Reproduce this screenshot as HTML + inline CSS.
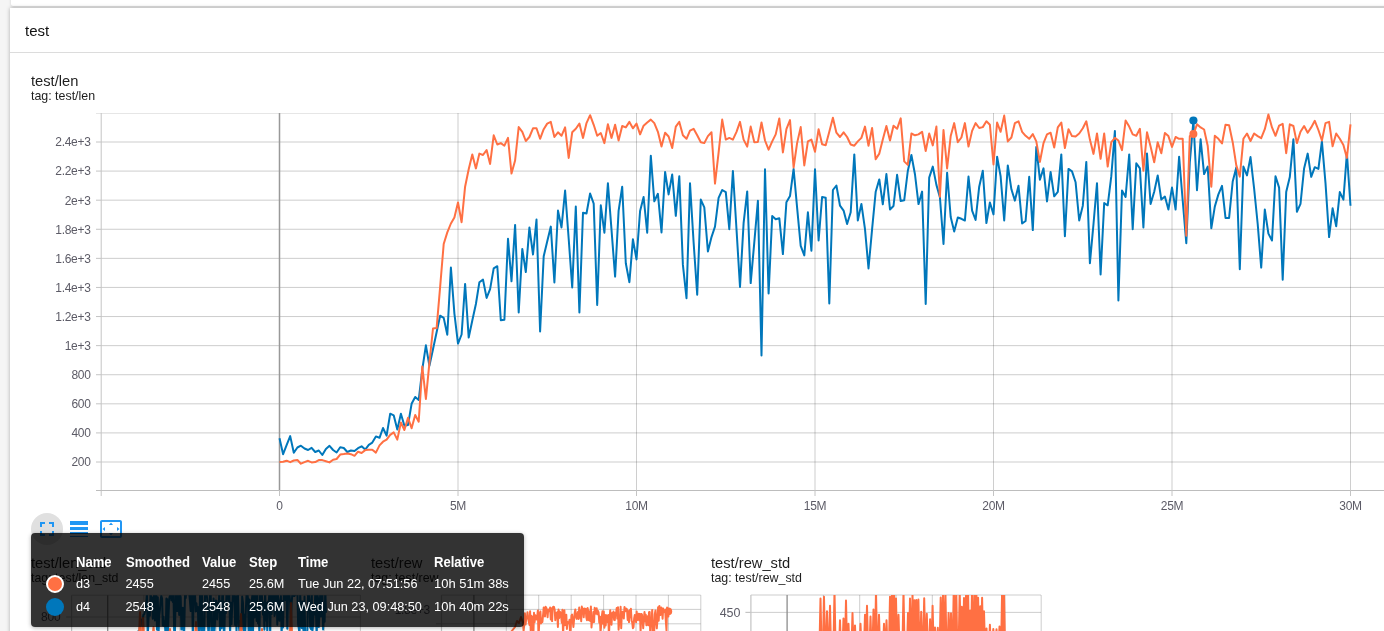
<!DOCTYPE html>
<html><head><meta charset="utf-8"><title>TensorBoard</title>
<style>
html,body{margin:0;padding:0;}
body{width:1384px;height:631px;overflow:hidden;background:#f5f5f5;font-family:"Liberation Sans",sans-serif;position:relative;color:#212121;}
.abs{position:absolute;white-space:nowrap;}
#root{position:absolute;left:0;top:0;width:1384px;height:631px;will-change:transform;transform:translateZ(0);}
#prev{left:10.5px;top:-20px;width:1400px;height:25.5px;background:#fff;border-radius:2px;box-shadow:0 1px 3px rgba(0,0,0,.15);}
#card{left:10px;top:8px;width:1400px;height:700px;background:#fff;box-shadow:0 0 4px rgba(0,0,0,.3);}
#hdrline{left:10px;top:52px;width:1400px;height:1px;background:#dcdcdc;}
.t14{font-size:14.7px;color:#1e1e1e;line-height:16px;}
.t12{font-size:12.4px;color:#1e1e1e;line-height:14px;}
svg{position:absolute;left:0;top:0;}
.tk{font-family:"Liberation Sans",sans-serif;font-size:12px;fill:#5c5b66;letter-spacing:-0.28px;}
#tip{left:31px;top:533px;width:493px;height:94px;background:rgba(0,0,0,.8);border-radius:4px;box-shadow:0 1px 4px rgba(0,0,0,.3);color:#fff;}
#tip span{position:absolute;white-space:nowrap;line-height:16px;}
.th{font-weight:bold;font-size:14px;top:21.3px;display:inline-block;transform-origin:0 50%;transform:scaleX(.935);}
.r1{font-size:12.7px;top:43px;}
.r2{font-size:12.7px;top:65.5px;}
.sw{position:absolute;width:14px;height:14px;border-radius:50%;border:2px solid transparent;left:15px;}
#btnbg{left:31px;top:513px;width:32px;height:32px;border-radius:50%;background:#e0e0e0;}
</style></head><body><div id="root">
<div id="prev" class="abs"></div>
<div id="card" class="abs"></div>
<div id="hdrline" class="abs"></div>
<div class="abs" style="left:25px;top:21.5px;font-size:15px;line-height:17px;color:#111;">test</div>
<div class="abs t14" style="left:31px;top:72.5px;">test/len</div>
<div class="abs t12" style="left:31px;top:88.5px;">tag: test/len</div>

<svg width="1384" height="631" viewBox="0 0 1384 631">
<defs><clipPath id="c1clip"><rect x="72" y="595.2" width="289" height="40"/></clipPath><clipPath id="c3clip"><rect x="751" y="595" width="290" height="40"/></clipPath></defs>
<line x1="101" x2="1384" y1="462.00" y2="462.00" stroke="#3c3c3c" stroke-opacity="0.25" stroke-width="1"/>
<line x1="101" x2="1384" y1="432.91" y2="432.91" stroke="#3c3c3c" stroke-opacity="0.25" stroke-width="1"/>
<line x1="101" x2="1384" y1="403.82" y2="403.82" stroke="#3c3c3c" stroke-opacity="0.25" stroke-width="1"/>
<line x1="101" x2="1384" y1="374.73" y2="374.73" stroke="#3c3c3c" stroke-opacity="0.25" stroke-width="1"/>
<line x1="101" x2="1384" y1="345.63" y2="345.63" stroke="#3c3c3c" stroke-opacity="0.25" stroke-width="1"/>
<line x1="101" x2="1384" y1="316.54" y2="316.54" stroke="#3c3c3c" stroke-opacity="0.25" stroke-width="1"/>
<line x1="101" x2="1384" y1="287.45" y2="287.45" stroke="#3c3c3c" stroke-opacity="0.25" stroke-width="1"/>
<line x1="101" x2="1384" y1="258.36" y2="258.36" stroke="#3c3c3c" stroke-opacity="0.25" stroke-width="1"/>
<line x1="101" x2="1384" y1="229.27" y2="229.27" stroke="#3c3c3c" stroke-opacity="0.25" stroke-width="1"/>
<line x1="101" x2="1384" y1="200.18" y2="200.18" stroke="#3c3c3c" stroke-opacity="0.25" stroke-width="1"/>
<line x1="101" x2="1384" y1="171.09" y2="171.09" stroke="#3c3c3c" stroke-opacity="0.25" stroke-width="1"/>
<line x1="101" x2="1384" y1="142.00" y2="142.00" stroke="#3c3c3c" stroke-opacity="0.25" stroke-width="1"/>
<line x1="96" x2="1384" y1="113.5" y2="113.5" stroke="#3c3c3c" stroke-opacity="0.13" stroke-width="1"/>
<line x1="458.00" x2="458.00" y1="113" y2="490" stroke="#3c3c3c" stroke-opacity="0.25" stroke-width="1"/>
<line x1="636.50" x2="636.50" y1="113" y2="490" stroke="#3c3c3c" stroke-opacity="0.25" stroke-width="1"/>
<line x1="815.00" x2="815.00" y1="113" y2="490" stroke="#3c3c3c" stroke-opacity="0.25" stroke-width="1"/>
<line x1="993.50" x2="993.50" y1="113" y2="490" stroke="#3c3c3c" stroke-opacity="0.25" stroke-width="1"/>
<line x1="1172.00" x2="1172.00" y1="113" y2="490" stroke="#3c3c3c" stroke-opacity="0.25" stroke-width="1"/>
<line x1="1350.50" x2="1350.50" y1="113" y2="490" stroke="#3c3c3c" stroke-opacity="0.25" stroke-width="1"/>
<line x1="279.5" x2="279.5" y1="113" y2="490" stroke="#999" stroke-width="1.5"/>
<line x1="101.2" x2="101.2" y1="113" y2="496" stroke="#c4c4c4" stroke-width="1"/>
<line x1="96" x2="1384" y1="490.5" y2="490.5" stroke="#bdbdbd" stroke-width="1"/>
<line x1="96" x2="101" y1="462.00" y2="462.00" stroke="#c4c4c4" stroke-width="1"/>
<line x1="96" x2="101" y1="432.91" y2="432.91" stroke="#c4c4c4" stroke-width="1"/>
<line x1="96" x2="101" y1="403.82" y2="403.82" stroke="#c4c4c4" stroke-width="1"/>
<line x1="96" x2="101" y1="374.73" y2="374.73" stroke="#c4c4c4" stroke-width="1"/>
<line x1="96" x2="101" y1="345.63" y2="345.63" stroke="#c4c4c4" stroke-width="1"/>
<line x1="96" x2="101" y1="316.54" y2="316.54" stroke="#c4c4c4" stroke-width="1"/>
<line x1="96" x2="101" y1="287.45" y2="287.45" stroke="#c4c4c4" stroke-width="1"/>
<line x1="96" x2="101" y1="258.36" y2="258.36" stroke="#c4c4c4" stroke-width="1"/>
<line x1="96" x2="101" y1="229.27" y2="229.27" stroke="#c4c4c4" stroke-width="1"/>
<line x1="96" x2="101" y1="200.18" y2="200.18" stroke="#c4c4c4" stroke-width="1"/>
<line x1="96" x2="101" y1="171.09" y2="171.09" stroke="#c4c4c4" stroke-width="1"/>
<line x1="96" x2="101" y1="142.00" y2="142.00" stroke="#c4c4c4" stroke-width="1"/>
<line x1="279.50" x2="279.50" y1="490" y2="496" stroke="#c4c4c4" stroke-width="1"/>
<line x1="458.00" x2="458.00" y1="490" y2="496" stroke="#c4c4c4" stroke-width="1"/>
<line x1="636.50" x2="636.50" y1="490" y2="496" stroke="#c4c4c4" stroke-width="1"/>
<line x1="815.00" x2="815.00" y1="490" y2="496" stroke="#c4c4c4" stroke-width="1"/>
<line x1="993.50" x2="993.50" y1="490" y2="496" stroke="#c4c4c4" stroke-width="1"/>
<line x1="1172.00" x2="1172.00" y1="490" y2="496" stroke="#c4c4c4" stroke-width="1"/>
<line x1="1350.50" x2="1350.50" y1="490" y2="496" stroke="#c4c4c4" stroke-width="1"/>
<polyline points="279.5,438.2 283.1,454.2 286.6,445.1 290.2,436.1 293.8,452.8 297.4,447.5 300.9,445.7 304.5,448.5 308.1,450.0 311.6,447.8 315.2,452.0 318.8,450.5 322.3,455.0 325.9,448.9 329.5,445.8 333.1,450.0 336.6,452.5 340.2,447.3 343.8,448.0 347.3,452.0 350.9,450.5 354.5,451.0 358.0,448.2 361.6,446.3 365.2,449.6 368.8,444.9 372.3,442.6 375.9,436.4 379.5,437.8 383.0,428.0 386.6,435.7 390.2,413.7 393.7,415.3 397.3,429.6 400.9,413.7 404.4,425.7 408.0,425.0 411.6,403.8 415.2,397.0 418.7,400.0 422.3,369.4 425.9,345.3 429.4,365.9 433.0,349.3 436.6,332.2 440.1,315.7 443.7,317.9 447.3,334.8 450.9,267.6 454.4,313.6 458.0,343.6 461.6,334.5 465.1,283.9 468.7,337.6 472.3,320.5 475.9,304.0 479.4,282.2 483.0,279.6 486.6,297.9 490.1,289.2 493.7,268.4 497.3,266.2 500.8,320.2 504.4,319.7 508.0,238.8 511.5,281.3 515.1,224.9 518.7,312.4 522.3,248.9 525.8,272.1 529.4,227.5 533.0,254.5 536.5,219.6 540.1,331.5 543.7,256.2 547.2,241.4 550.8,226.6 554.4,282.5 558.0,210.6 561.5,227.5 565.1,190.5 568.7,239.0 572.2,287.4 575.8,206.6 579.4,312.4 583.0,212.7 586.5,213.5 590.1,193.5 593.7,203.6 597.2,304.9 600.8,205.3 604.4,232.7 607.9,183.2 611.5,229.7 615.1,276.6 618.6,210.9 622.2,186.7 625.8,263.2 629.4,282.2 632.9,239.3 636.5,259.4 640.1,210.9 643.6,197.0 647.2,232.7 650.8,155.7 654.3,201.3 657.9,193.8 661.5,232.4 665.1,171.9 668.6,194.4 672.2,174.5 675.8,215.8 679.3,176.2 682.9,264.9 686.5,298.2 690.0,183.2 693.6,242.3 697.2,294.7 700.8,199.6 704.3,207.4 707.9,251.4 711.5,237.1 715.0,226.6 718.6,197.8 722.2,190.0 725.8,192.1 729.3,229.2 732.9,171.0 736.5,229.2 740.0,286.9 743.6,223.1 747.2,191.4 750.7,283.1 754.3,242.3 757.9,200.8 761.5,355.4 765.0,169.3 768.6,293.5 772.2,216.1 775.7,219.3 779.3,218.2 782.9,254.1 786.4,202.2 790.0,196.1 793.6,168.9 797.1,207.6 800.7,245.8 804.3,255.4 807.9,212.3 811.4,250.7 815.0,169.3 818.6,240.5 822.1,197.0 825.7,197.8 829.3,303.5 832.9,190.0 836.4,185.5 840.0,205.7 843.6,210.6 847.1,224.0 850.7,212.3 854.3,154.4 857.8,220.5 861.4,203.9 865.0,229.2 868.5,268.4 872.1,229.2 875.7,191.7 879.3,179.4 882.8,204.3 886.4,174.1 890.0,209.5 893.5,206.0 897.1,174.8 900.7,201.0 904.2,200.3 907.8,171.0 911.4,155.0 915.0,174.5 918.5,204.1 922.1,191.6 925.7,304.0 929.2,177.6 932.8,166.6 936.4,184.9 939.9,197.1 943.5,244.0 947.1,172.7 950.7,217.0 954.2,231.5 957.8,217.5 961.4,218.8 964.9,220.5 968.5,176.6 972.1,210.6 975.6,220.0 979.2,186.7 982.8,170.7 986.4,223.1 989.9,202.5 993.5,214.4 997.1,156.7 1000.6,176.2 1004.2,220.5 1007.8,165.4 1011.4,189.3 1014.9,200.6 1018.5,185.8 1022.1,223.5 1025.6,221.0 1029.2,176.8 1032.8,230.1 1036.3,146.9 1039.9,179.7 1043.5,168.4 1047.0,201.5 1050.6,171.9 1054.2,196.3 1057.8,191.9 1061.3,154.4 1064.9,236.2 1068.5,168.9 1072.0,171.4 1075.6,182.3 1079.2,220.5 1082.8,205.7 1086.3,161.9 1089.9,263.2 1093.5,224.0 1097.0,183.2 1100.6,274.5 1104.2,203.1 1107.7,205.3 1111.3,176.2 1114.9,130.9 1118.4,300.5 1122.0,190.5 1125.6,197.0 1129.2,154.4 1132.7,229.2 1136.3,163.2 1139.9,168.4 1143.4,227.5 1147.0,153.6 1150.6,203.9 1154.2,191.7 1157.7,175.4 1161.3,199.6 1164.9,196.6 1168.4,209.5 1172.0,187.6 1175.6,209.5 1179.1,156.7 1182.7,200.5 1186.3,243.2 1189.8,162.3 1193.4,120.8 1197.0,190.2 1200.6,139.3 1204.1,174.1 1207.7,166.6 1211.3,228.3 1214.8,206.6 1218.4,194.4 1222.0,185.8 1225.5,217.9 1229.1,217.9 1232.7,181.5 1236.3,167.5 1239.8,269.3 1243.4,166.6 1247.0,175.4 1250.5,157.1 1254.1,188.4 1257.7,224.0 1261.2,267.6 1264.8,209.5 1268.4,233.6 1272.0,240.5 1275.5,176.2 1279.1,187.6 1282.7,279.8 1286.2,192.1 1289.8,177.1 1293.4,139.3 1296.9,211.8 1300.5,203.9 1304.1,168.4 1307.7,153.6 1311.2,176.8 1314.8,167.2 1318.4,168.9 1321.9,141.4 1325.5,183.2 1329.1,237.1 1332.6,208.3 1336.2,226.3 1339.8,192.1 1343.4,199.6 1346.9,153.2 1350.5,205.7" fill="none" stroke="#0077bb" stroke-width="2" stroke-linejoin="round" stroke-linecap="butt"/>
<polyline points="279.5,461.9 283.1,461.8 286.6,460.7 290.2,462.2 293.8,460.5 297.4,460.0 300.9,463.7 304.5,462.1 308.1,460.8 311.6,462.4 315.2,462.1 318.8,460.1 322.3,460.1 325.9,461.2 329.5,462.4 333.1,459.8 336.6,459.0 340.2,454.6 343.8,454.1 347.3,453.5 350.9,454.2 354.5,455.8 358.0,451.7 361.6,453.0 365.2,450.1 368.8,449.7 372.3,449.7 375.9,452.6 379.5,445.4 383.0,441.7 386.6,439.7 390.2,434.9 393.7,432.4 397.3,439.6 400.9,422.5 404.4,430.0 408.0,417.8 411.6,428.2 415.2,415.0 418.7,421.7 422.3,366.6 425.9,398.9 429.4,362.8 433.0,328.5 436.6,328.1 440.1,287.4 443.7,244.0 447.3,232.4 450.9,223.5 454.4,217.4 458.0,202.5 461.6,222.2 465.1,186.7 468.7,169.3 472.3,154.4 475.9,168.4 479.4,153.6 483.0,155.0 486.6,150.1 490.1,164.0 493.7,135.3 497.3,144.5 500.8,143.1 504.4,145.7 508.0,137.9 511.5,173.6 515.1,160.5 518.7,127.1 522.3,131.8 525.8,141.0 529.4,137.0 533.0,128.3 536.5,128.3 540.1,138.8 543.7,129.2 547.2,123.6 550.8,121.9 554.4,137.0 558.0,132.3 561.5,135.8 565.1,127.4 568.7,157.9 572.2,132.3 575.8,128.8 579.4,123.6 583.0,137.9 586.5,123.1 590.1,115.2 593.7,124.8 597.2,135.8 600.8,133.0 604.4,143.1 607.9,124.3 611.5,137.9 615.1,124.8 618.6,140.5 622.2,126.0 625.8,127.4 629.4,121.9 632.9,128.3 636.5,123.6 640.1,134.4 643.6,125.7 647.2,122.5 650.8,119.6 654.3,123.1 657.9,131.8 661.5,146.6 665.1,132.7 668.6,136.5 672.2,148.0 675.8,126.6 679.3,121.9 682.9,135.3 686.5,138.8 690.0,130.6 693.6,128.8 697.2,135.3 700.8,142.2 704.3,143.1 707.9,136.1 711.5,132.3 715.0,183.6 718.6,152.7 722.2,119.6 725.8,139.6 729.3,137.9 732.9,139.6 736.5,131.8 740.0,121.9 743.6,139.6 747.2,146.6 750.7,126.6 754.3,142.2 757.9,141.9 761.5,122.5 765.0,140.5 768.6,149.7 772.2,141.4 775.7,134.4 779.3,118.4 782.9,152.4 786.4,129.2 790.0,120.1 793.6,167.5 797.1,143.1 800.7,127.1 804.3,165.4 807.9,141.4 811.4,139.6 815.0,151.8 818.6,129.2 822.1,144.3 825.7,145.2 829.3,131.8 832.9,117.8 836.4,132.7 840.0,137.0 843.6,132.3 847.1,137.0 850.7,144.5 854.3,145.7 857.8,141.4 861.4,137.9 865.0,126.6 868.5,145.7 872.1,128.0 875.7,159.3 879.3,153.6 882.8,139.6 886.4,126.0 890.0,140.5 893.5,125.7 897.1,128.8 900.7,118.4 904.2,161.4 907.8,164.9 911.4,133.5 915.0,135.3 918.5,134.4 922.1,131.8 925.7,151.0 929.2,133.5 932.8,145.4 936.4,126.6 939.9,196.8 943.5,130.0 947.1,168.4 950.7,136.1 954.2,123.1 957.8,142.2 961.4,137.5 964.9,123.1 968.5,146.6 972.1,130.9 975.6,123.1 979.2,128.0 982.8,127.1 986.4,121.3 989.9,124.8 993.5,164.4 997.1,122.5 1000.6,131.8 1004.2,115.6 1007.8,141.4 1011.4,137.5 1014.9,123.1 1018.5,121.3 1022.1,131.8 1025.6,135.8 1029.2,138.8 1032.8,134.1 1036.3,141.4 1039.9,161.9 1043.5,143.1 1047.0,134.4 1050.6,132.7 1054.2,147.5 1057.8,127.4 1061.3,122.5 1064.9,148.0 1068.5,129.2 1072.0,136.1 1075.6,136.5 1079.2,133.5 1082.8,128.3 1086.3,121.3 1089.9,139.6 1093.5,153.9 1097.0,133.5 1100.6,158.8 1104.2,133.5 1107.7,166.6 1111.3,142.2 1114.9,137.9 1118.4,140.5 1122.0,150.1 1125.6,120.5 1129.2,126.6 1132.7,134.4 1136.3,135.8 1139.9,128.8 1143.4,170.7 1147.0,132.3 1150.6,146.6 1154.2,162.3 1157.7,142.2 1161.3,153.2 1164.9,133.0 1168.4,136.1 1172.0,146.9 1175.6,137.0 1179.1,138.8 1182.7,138.8 1186.3,235.7 1189.8,136.1 1193.4,134.4 1197.0,124.3 1200.6,127.4 1204.1,129.5 1207.7,145.7 1211.3,186.7 1214.8,135.8 1218.4,138.8 1222.0,143.5 1225.5,124.8 1229.1,125.3 1232.7,142.2 1236.3,165.4 1239.8,176.6 1243.4,138.8 1247.0,133.5 1250.5,141.0 1254.1,133.5 1257.7,136.1 1261.2,138.2 1264.8,129.2 1268.4,114.4 1272.0,127.4 1275.5,135.8 1279.1,125.7 1282.7,123.9 1286.2,153.2 1289.8,124.3 1293.4,126.0 1296.9,143.1 1300.5,131.8 1304.1,126.0 1307.7,132.7 1311.2,127.4 1314.8,120.8 1318.4,130.0 1321.9,140.5 1325.5,123.1 1329.1,121.9 1332.6,146.3 1336.2,133.5 1339.8,138.8 1343.4,144.9 1346.9,157.9 1350.5,124.3" fill="none" stroke="#ff7043" stroke-width="2" stroke-linejoin="round" stroke-linecap="butt"/>
<circle cx="1193.4" cy="120.5" r="4.1" fill="#0077bb"/>
<circle cx="1193.4" cy="134.1" r="4.0" fill="#ff7043"/>
<text x="90.6" y="466.3" text-anchor="end" class="tk">200</text>
<text x="90.6" y="437.2" text-anchor="end" class="tk">400</text>
<text x="90.6" y="408.1" text-anchor="end" class="tk">600</text>
<text x="90.6" y="379.0" text-anchor="end" class="tk">800</text>
<text x="90.6" y="349.9" text-anchor="end" class="tk">1e+3</text>
<text x="90.6" y="320.8" text-anchor="end" class="tk">1.2e+3</text>
<text x="90.6" y="291.8" text-anchor="end" class="tk">1.4e+3</text>
<text x="90.6" y="262.7" text-anchor="end" class="tk">1.6e+3</text>
<text x="90.6" y="233.6" text-anchor="end" class="tk">1.8e+3</text>
<text x="90.6" y="204.5" text-anchor="end" class="tk">2e+3</text>
<text x="90.6" y="175.4" text-anchor="end" class="tk">2.2e+3</text>
<text x="90.6" y="146.3" text-anchor="end" class="tk">2.4e+3</text>
<text x="279.5" y="510" text-anchor="middle" class="tk">0</text>
<text x="458.0" y="510" text-anchor="middle" class="tk">5M</text>
<text x="636.5" y="510" text-anchor="middle" class="tk">10M</text>
<text x="815.0" y="510" text-anchor="middle" class="tk">15M</text>
<text x="993.5" y="510" text-anchor="middle" class="tk">20M</text>
<text x="1172.0" y="510" text-anchor="middle" class="tk">25M</text>
<text x="1350.5" y="510" text-anchor="middle" class="tk">30M</text>
<line x1="71.6" x2="360.5" y1="595.2" y2="595.2" stroke="#3c3c3c" stroke-opacity="0.25" stroke-width="1"/>
<line x1="71.6" x2="360.5" y1="617.0" y2="617.0" stroke="#3c3c3c" stroke-opacity="0.25" stroke-width="1"/>
<line x1="143.8" x2="143.8" y1="595.2" y2="631" stroke="#3c3c3c" stroke-opacity="0.25" stroke-width="1"/>
<line x1="179.9" x2="179.9" y1="595.2" y2="631" stroke="#3c3c3c" stroke-opacity="0.25" stroke-width="1"/>
<line x1="216.0" x2="216.0" y1="595.2" y2="631" stroke="#3c3c3c" stroke-opacity="0.25" stroke-width="1"/>
<line x1="252.1" x2="252.1" y1="595.2" y2="631" stroke="#3c3c3c" stroke-opacity="0.25" stroke-width="1"/>
<line x1="288.2" x2="288.2" y1="595.2" y2="631" stroke="#3c3c3c" stroke-opacity="0.25" stroke-width="1"/>
<line x1="324.3" x2="324.3" y1="595.2" y2="631" stroke="#3c3c3c" stroke-opacity="0.25" stroke-width="1"/>
<line x1="360.4" x2="360.4" y1="595.2" y2="631" stroke="#3c3c3c" stroke-opacity="0.25" stroke-width="1"/>
<line x1="107.7" x2="107.7" y1="595.2" y2="631" stroke="#8c8c8c" stroke-width="1.3"/>
<line x1="71.6" x2="71.6" y1="595.2" y2="631" stroke="#c4c4c4" stroke-width="1.2"/>
<line x1="66.1" x2="71.6" y1="617.0" y2="617.0" stroke="#c4c4c4" stroke-width="1.2"/>
<g clip-path="url(#c1clip)"><polyline points="137.0,638.1 137.7,636.6 138.4,631.1 139.1,632.0 139.9,626.7 140.6,625.2 141.3,624.5 142.0,619.3 142.7,619.6 143.4,614.7 144.2,614.4 144.9,611.7 145.6,607.2 146.3,602.3 147.0,591.6 147.7,638.2 148.5,619.5 149.2,607.6 149.9,615.8 150.6,589.9 151.3,601.1 152.0,597.3 152.8,618.7 153.5,608.1 154.2,591.3 154.9,620.5 155.6,597.4 156.3,592.8 157.0,629.8 157.8,597.2 158.5,635.8 159.2,615.8 159.9,610.0 160.6,600.1 161.3,595.8 162.1,598.7 162.8,625.5 163.5,616.7 164.2,626.2 164.9,621.5 165.6,638.1 166.4,598.6 167.1,599.2 167.8,639.8 168.5,615.7 169.2,598.7 169.9,595.4 170.6,589.9 171.4,600.3 172.1,592.0 172.8,601.9 173.5,595.2 174.2,636.0 174.9,635.4 175.7,594.6 176.4,602.1 177.1,611.1 177.8,591.7 178.5,595.8 179.2,614.9 180.0,594.7 180.7,597.1 181.4,629.5 182.1,627.0 182.8,607.8 183.5,632.5 184.2,633.1 185.0,594.4 185.7,598.1 186.4,589.1 187.1,590.6 187.8,588.8 188.5,590.4 189.3,593.8 190.0,602.0 190.7,611.1 191.4,593.6 192.1,590.0 192.8,639.8 193.6,595.7 194.3,589.6 195.0,592.2 195.7,611.5 196.4,603.2 197.1,611.0 197.9,606.9 198.6,639.3 199.3,629.7 200.0,593.9 200.7,600.4 201.4,632.5 202.1,591.6 202.9,639.5 203.6,633.4 204.3,631.2 205.0,596.3 205.7,588.5 206.4,592.5 207.2,599.1 207.9,621.2 208.6,639.6 209.3,618.4 210.0,591.6 210.7,591.3 211.5,636.6 212.2,622.3 212.9,633.2 213.6,598.6 214.3,632.6 215.0,622.3 215.8,600.6 216.5,600.8 217.2,619.5 217.9,603.1 218.6,611.8 219.3,590.4 220.0,633.4 220.8,601.2 221.5,628.3 222.2,596.8 222.9,588.2 223.6,628.1 224.3,637.7 225.1,601.9 225.8,613.2 226.5,592.7 227.2,597.4 227.9,594.7 228.6,602.6 229.4,595.3 230.1,636.7 230.8,602.7 231.5,624.1 232.2,606.6 232.9,590.9 233.6,600.8 234.4,595.6 235.1,624.9 235.8,596.3 236.5,632.7 237.2,597.0 237.9,592.4 238.7,623.3 239.4,631.8 240.1,621.1 240.8,623.2 241.5,629.6 242.2,596.5 243.0,603.1 243.7,635.8 244.4,614.8 245.1,638.1 245.8,610.7 246.5,595.1 247.2,591.9 248.0,598.7 248.7,636.5 249.4,599.5 250.1,610.9 250.8,638.9 251.5,603.2 252.3,595.8 253.0,634.3 253.7,594.9 254.4,617.5 255.1,593.1 255.8,606.7 256.6,621.0 257.3,593.3 258.0,623.4 258.7,603.8 259.4,639.0 260.1,592.2 260.9,600.5 261.6,590.1 262.3,602.6 263.0,614.8 263.7,602.7 264.4,629.8 265.1,588.9 265.9,620.5 266.6,603.0 267.3,633.3 268.0,601.7 268.7,601.8 269.4,593.4 270.2,637.5 270.9,590.1 271.6,614.1 272.3,590.6 273.0,591.2 273.7,592.9 274.5,615.9 275.2,612.0 275.9,588.3 276.6,588.2 277.3,624.7 278.0,595.6 278.8,609.6 279.5,620.7 280.2,601.4 280.9,596.1 281.6,639.4 282.3,601.3 283.0,627.6 283.8,593.6 284.5,590.1 285.2,599.9 285.9,590.6 286.6,601.5 287.3,628.8 288.1,591.9 288.8,595.4 289.5,595.1 290.2,603.4 290.9,624.6 291.6,603.5 292.4,593.7 293.1,594.1 293.8,596.0 294.5,596.1 295.2,592.2 295.9,594.4 296.6,588.4 297.4,591.7 298.1,624.0 298.8,628.4 299.5,635.9 300.2,593.2 300.9,611.1 301.7,627.9 302.4,601.4 303.1,627.3 303.8,633.6 304.5,596.4 305.2,634.4 306.0,634.1 306.7,636.4 307.4,629.6 308.1,588.5 308.8,593.8 309.5,601.4 310.2,627.3 311.0,629.1 311.7,588.1 312.4,631.4 313.1,624.2 313.8,608.2 314.5,614.6 315.3,592.2 316.0,613.0 316.7,639.2 317.4,594.1 318.1,598.9 318.8,627.0 319.6,608.6 320.3,592.1 321.0,616.4 321.7,606.4 322.4,592.3 323.1,629.5 323.9,615.9 324.6,621.8 325.3,589.9 326.0,612.8" fill="none" stroke="#0077bb" stroke-width="2" stroke-linejoin="round"/></g>
<polyline points="138.8,640 140,612 141.2,640" fill="none" stroke="#ff7043" stroke-width="2" stroke-linejoin="round"/>
<polyline points="141.8,640 143,618 144.2,640" fill="none" stroke="#ff7043" stroke-width="2" stroke-linejoin="round"/>
<polyline points="152.3,640 153.5,627 154.7,640" fill="none" stroke="#ff7043" stroke-width="2" stroke-linejoin="round"/>
<polyline points="194.8,640 196,622 197.2,640" fill="none" stroke="#ff7043" stroke-width="2" stroke-linejoin="round"/>
<polyline points="239.8,640 241,614 242.2,640" fill="none" stroke="#ff7043" stroke-width="2" stroke-linejoin="round"/>
<polyline points="289.8,640 291,603 292.2,640" fill="none" stroke="#ff7043" stroke-width="2" stroke-linejoin="round"/>
<polyline points="168.8,640 170,629 171.2,640" fill="none" stroke="#ff7043" stroke-width="2" stroke-linejoin="round"/>
<polyline points="260.8,640 262,629 263.2,640" fill="none" stroke="#ff7043" stroke-width="2" stroke-linejoin="round"/>
<line x1="441.5" x2="700.7" y1="595.1" y2="595.1" stroke="#3c3c3c" stroke-opacity="0.25" stroke-width="1"/>
<line x1="441.5" x2="700.7" y1="609.4" y2="609.4" stroke="#3c3c3c" stroke-opacity="0.25" stroke-width="1"/>
<line x1="441.5" x2="700.7" y1="623.8" y2="623.8" stroke="#3c3c3c" stroke-opacity="0.25" stroke-width="1"/>
<line x1="506.3" x2="506.3" y1="595.1" y2="631" stroke="#3c3c3c" stroke-opacity="0.25" stroke-width="1"/>
<line x1="538.7" x2="538.7" y1="595.1" y2="631" stroke="#3c3c3c" stroke-opacity="0.25" stroke-width="1"/>
<line x1="571.2" x2="571.2" y1="595.1" y2="631" stroke="#3c3c3c" stroke-opacity="0.25" stroke-width="1"/>
<line x1="603.6" x2="603.6" y1="595.1" y2="631" stroke="#3c3c3c" stroke-opacity="0.25" stroke-width="1"/>
<line x1="636.0" x2="636.0" y1="595.1" y2="631" stroke="#3c3c3c" stroke-opacity="0.25" stroke-width="1"/>
<line x1="668.4" x2="668.4" y1="595.1" y2="631" stroke="#3c3c3c" stroke-opacity="0.25" stroke-width="1"/>
<line x1="700.8" x2="700.8" y1="595.1" y2="631" stroke="#3c3c3c" stroke-opacity="0.25" stroke-width="1"/>
<line x1="473.9" x2="473.9" y1="595.1" y2="631" stroke="#8c8c8c" stroke-width="1.3"/>
<line x1="441.5" x2="441.5" y1="595.1" y2="631" stroke="#c4c4c4" stroke-width="1.2"/>
<line x1="436.0" x2="441.5" y1="609.4" y2="609.4" stroke="#c4c4c4" stroke-width="1.2"/>
<line x1="436.0" x2="441.5" y1="623.8" y2="623.8" stroke="#c4c4c4" stroke-width="1.2"/>
<polyline points="507,640 511,632 515,627 517,621 519,623 521,617 523.0,623.0 523.6,630.8 524.3,624.2 524.9,613.3 525.6,624.4 526.2,618.9 526.9,618.2 527.5,612.2 528.2,618.5 528.8,621.8 529.5,625.1 530.1,611.2 530.8,633.8 531.4,615.8 532.0,616.5 532.7,624.4 533.3,637.4 534.0,612.8 534.6,622.1 535.3,615.2 535.9,616.7 536.6,619.6 537.2,616.8 537.9,610.4 538.5,637.1 539.2,624.0 539.8,613.0 540.4,611.5 541.1,623.4 541.7,620.7 542.4,622.0 543.0,615.9 543.7,607.6 544.3,613.7 545.0,616.5 545.6,606.7 546.3,607.8 546.9,611.0 547.6,617.2 548.2,609.4 548.8,609.9 549.5,611.3 550.1,607.6 550.8,619.5 551.4,608.6 552.1,621.1 552.7,607.5 553.4,606.8 554.0,607.0 554.7,609.9 555.3,620.2 556.0,612.9 556.6,614.9 557.2,612.3 557.9,627.0 558.5,609.5 559.2,617.9 559.8,611.6 560.5,612.5 561.1,615.9 561.8,622.7 562.4,609.8 563.1,635.6 563.7,617.5 564.4,610.2 565.0,625.3 565.7,624.3 566.3,614.7 566.9,629.0 567.6,621.9 568.2,622.5 568.9,623.2 569.5,619.8 570.2,637.9 570.8,625.5 571.5,615.5 572.1,614.5 572.8,621.5 573.4,627.0 574.1,619.1 574.7,613.1 575.3,609.4 576.0,616.3 576.6,618.9 577.3,615.9 577.9,611.9 578.6,618.9 579.2,607.6 579.9,617.8 580.5,610.8 581.2,621.2 581.8,606.6 582.5,612.6 583.1,608.8 583.7,617.3 584.4,608.6 585.0,610.1 585.7,608.8 586.3,617.2 587.0,620.2 587.6,608.0 588.3,611.7 588.9,620.3 589.6,611.6 590.2,621.0 590.9,606.5 591.5,627.4 592.1,620.3 592.8,622.4 593.4,611.9 594.1,622.0 594.7,607.8 595.4,613.7 596.0,613.3 596.7,608.3 597.3,614.3 598.0,610.9 598.6,612.6 599.3,622.7 599.9,616.7 600.5,632.7 601.2,625.0 601.8,616.3 602.5,611.2 603.1,623.8 603.8,611.6 604.4,627.8 605.1,615.1 605.7,625.4 606.4,615.3 607.0,620.7 607.7,622.2 608.3,615.0 608.9,637.0 609.6,620.3 610.2,610.3 610.9,617.3 611.5,624.7 612.2,613.1 612.8,616.7 613.5,611.4 614.1,619.9 614.8,620.2 615.4,612.7 616.1,612.9 616.7,608.1 617.3,618.6 618.0,607.3 618.6,629.7 619.3,621.4 619.9,621.3 620.6,606.7 621.2,628.2 621.9,612.3 622.5,611.7 623.2,615.8 623.8,618.6 624.5,607.0 625.1,609.8 625.7,611.2 626.4,608.6 627.0,609.5 627.7,619.9 628.3,611.2 629.0,622.1 629.6,610.2 630.3,617.3 630.9,608.8 631.6,620.6 632.2,622.4 632.9,628.2 633.5,627.1 634.2,618.1 634.8,615.0 635.4,616.6 636.1,622.1 636.7,611.6 637.4,620.1 638.0,616.3 638.7,613.8 639.3,620.3 640.0,614.1 640.6,631.5 641.3,614.0 641.9,614.3 642.6,619.7 643.2,628.3 643.8,619.6 644.5,612.1 645.1,621.6 645.8,614.8 646.4,625.3 647.1,618.9 647.7,616.2 648.4,625.2 649.0,612.1 649.7,611.9 650.3,636.9 651.0,621.1 651.6,621.8 652.2,609.9 652.9,630.7 653.5,621.2 654.2,631.1 654.8,614.2 655.5,610.4 656.1,620.5 656.8,628.3 657.4,620.8 658.1,607.2 658.7,620.7 659.4,605.9 660.0,611.2 660.6,614.9 661.3,607.6 661.9,608.7 662.6,618.8 663.2,608.4 663.9,612.0 664.5,612.0 665.2,610.0 665.8,620.7 666.5,630.5 667.1,607.6 667.8,609.2 668.4,616.4 668.4,611.4" fill="none" stroke="#ff7043" stroke-width="2" stroke-linejoin="round"/>
<circle cx="668.4" cy="611.4" r="3.8" fill="#ff7043"/>
<line x1="750.9" x2="1041" y1="595.0" y2="595.0" stroke="#3c3c3c" stroke-opacity="0.25" stroke-width="1"/>
<line x1="750.9" x2="1041" y1="612.4" y2="612.4" stroke="#3c3c3c" stroke-opacity="0.25" stroke-width="1"/>
<line x1="823.4" x2="823.4" y1="595.0" y2="631" stroke="#3c3c3c" stroke-opacity="0.25" stroke-width="1"/>
<line x1="859.7" x2="859.7" y1="595.0" y2="631" stroke="#3c3c3c" stroke-opacity="0.25" stroke-width="1"/>
<line x1="896.0" x2="896.0" y1="595.0" y2="631" stroke="#3c3c3c" stroke-opacity="0.25" stroke-width="1"/>
<line x1="932.3" x2="932.3" y1="595.0" y2="631" stroke="#3c3c3c" stroke-opacity="0.25" stroke-width="1"/>
<line x1="968.6" x2="968.6" y1="595.0" y2="631" stroke="#3c3c3c" stroke-opacity="0.25" stroke-width="1"/>
<line x1="1004.9" x2="1004.9" y1="595.0" y2="631" stroke="#3c3c3c" stroke-opacity="0.25" stroke-width="1"/>
<line x1="1041.2" x2="1041.2" y1="595.0" y2="631" stroke="#3c3c3c" stroke-opacity="0.25" stroke-width="1"/>
<line x1="787.1" x2="787.1" y1="595.0" y2="631" stroke="#8c8c8c" stroke-width="1.3"/>
<line x1="750.9" x2="750.9" y1="595.0" y2="631" stroke="#c4c4c4" stroke-width="1.2"/>
<line x1="745.4" x2="750.9" y1="612.4" y2="612.4" stroke="#c4c4c4" stroke-width="1.2"/>
<g clip-path="url(#c3clip)"><polyline points="818,655 819.3,655 820.5,598.6 821.7,655 822.8,655 824.0,596.8 825.2,655 825.8,655 827.0,611.2 828.2,655 828.8,655 830.0,605.8 831.2,655 833.3,655 834.5,591.4 835.7,655 838.8,655 840.0,620.2 841.2,655 842.3,655 843.5,618.4 844.7,655 844.8,655 846.0,600.4 847.2,655 847.3,655 848.5,623.8 849.7,655 851.3,655 852.5,613.0 853.7,655 853.8,655 855.0,625.6 856.2,655 859.3,655 860.5,623.8 861.7,655 863.8,655 865.0,614.8 866.2,655 865.8,655 867.0,605.8 868.2,655 869.3,655 870.5,616.6 871.7,655 872.3,655 873.5,609.4 874.7,655 874.8,655 876.0,591.4 877.2,655 877.8,655 879.0,614.8 880.2,655 882.8,655 884.0,623.8 885.2,655 885.3,655 886.5,620.2 887.7,655 888.8,655 890.0,596.8 891.2,655 890.8,655 892.0,591.4 893.2,655 892.8,655 894.0,591.4 895.2,655 894.8,655 896.0,598.6 897.2,655 897.3,655 898.5,614.8 899.7,655 902.3,655 903.5,591.4 904.7,655 906.8,655 908.0,613.0 909.2,655 908.8,655 910.0,598.6 911.2,655 911.3,655 912.5,594.2 913.7,655 913.2,655 914.4,600.2 915.6,655 915.1,655 916.3,600.0 917.5,655 917.2,655 918.4,599.4 919.6,655 920.0,655 921.2,611.7 922.4,655 923.0,655 924.2,598.2 925.4,655 925.6,655 926.8,613.7 928.0,655 928.9,655 930.1,619.2 931.3,655 931.4,655 932.6,605.7 933.8,655 933.8,655 935.0,627.5 936.2,655 936.6,655 937.8,627.8 939.0,655 939.5,655 940.7,597.6 941.9,655 941.8,655 943.0,593.9 944.2,655 944.2,655 945.4,591.1 946.6,655 947.4,655 948.6,613.1 949.8,655 949.8,655 951.0,613.3 952.2,655 952.6,655 953.8,584.8 955.0,655 955.0,655 956.2,587.5 957.4,655 958.5,655 959.7,591.2 960.9,655 960.6,655 961.8,606.8 963.0,655 962.8,655 964.0,598.1 965.2,655 965.0,655 966.2,585.8 967.4,655 966.8,655 968.0,589.5 969.2,655 968.9,655 970.1,610.5 971.3,655 970.8,655 972.0,590.5 973.2,655 973.3,655 974.5,586.4 975.7,655 975.1,655 976.3,588.7 977.5,655 976.9,655 978.1,597.8 979.3,655 979.1,655 980.3,606.3 981.5,655 980.9,655 982.1,597.7 983.3,655 982.8,655 984.0,611.3 985.2,655 985.3,655 986.5,628.4 987.7,655 988.7,655 989.9,624.7 991.1,655 992.1,655 993.3,629.0 994.5,655 995.3,655 996.5,629.3 997.7,655 998.3,655 999.5,626.5 1000.7,655 1001.0,655 1002.2,585.2 1003.4,655 1002.8,655 1004.0,591.4 1005.2,655" fill="none" stroke="#ff7043" stroke-width="2" stroke-linejoin="round"/></g>
<text x="60.3" y="621.3" text-anchor="end" class="tk">800</text>
<text x="430" y="613.9" text-anchor="end" class="tk">1.8e+3</text>
<text x="740.5" y="616.7" text-anchor="end" class="tk" style="font-size:12.5px;letter-spacing:0">450</text>
</svg>

<div class="abs t14" style="left:31px;top:554.5px;">test/len_std</div>
<div class="abs t12" style="left:31px;top:570.5px;">tag: test/len_std</div>
<div class="abs t14" style="left:371px;top:554.5px;">test/rew</div>
<div class="abs t12" style="left:371px;top:570.5px;">tag: test/rew</div>
<div class="abs t14" style="left:711px;top:554.5px;">test/rew_std</div>
<div class="abs t12" style="left:711px;top:570.5px;">tag: test/rew_std</div>

<div id="btnbg" class="abs"></div>
<svg width="1384" height="631" viewBox="0 0 1384 631" style="pointer-events:none">
<g fill="#2196f3">
<g transform="translate(35,517)"><path d="M7 14H5v5h5v-2H7v-3zm-2-4h2V7h3V5H5v5zm12 7h-3v2h5v-5h-2v3zM14 5v2h3v3h2V5h-5z"/></g>
<g transform="translate(67,517)"><path d="M3 17h18v-2H3v2zm0 3h18v-1H3v1zm0-7h18v-3H3v3zm0-9v4h18V4H3z"/></g>
<g transform="translate(99,517)"><path d="M12.01 5.5L10 8h4l-1.99-2.5zM18 10v4l2.5-1.99L18 10zM6 10l-2.5 2.01L6 14v-4zm8 6h-4l2.01 2.5L14 16zm7-13H3c-1.1 0-2 .9-2 2v14c0 1.1.9 2 2 2h18c1.1 0 2-.9 2-2V5c0-1.1-.9-2-2-2zm0 16.01H3V4.99h18v14.02z"/></g>
</g>
</svg>

<div id="tip" class="abs">
<span class="th" style="left:45px;">Name</span>
<span class="th" style="left:94.5px;">Smoothed</span>
<span class="th" style="left:171px;">Value</span>
<span class="th" style="left:218px;">Step</span>
<span class="th" style="left:267px;">Time</span>
<span class="th" style="left:403px;">Relative</span>
<div class="sw" style="top:42px;background:#ff7043;border-color:#fff;"></div>
<div class="sw" style="top:64.5px;background:#0077bb;"></div>
<span class="r1" style="left:45px;">d3</span>
<span class="r1" style="left:94.5px;">2455</span>
<span class="r1" style="left:171px;">2455</span>
<span class="r1" style="left:218px;">25.6M</span>
<span class="r1" style="left:267px;">Tue Jun 22, 07:51:56</span>
<span class="r1" style="left:403px;font-size:12.95px;">10h 51m 38s</span>
<span class="r2" style="left:45px;">d4</span>
<span class="r2" style="left:94.5px;">2548</span>
<span class="r2" style="left:171px;">2548</span>
<span class="r2" style="left:218px;">25.6M</span>
<span class="r2" style="left:267px;">Wed Jun 23, 09:48:50</span>
<span class="r2" style="left:403px;font-size:12.95px;">10h 40m 22s</span>
</div>
</div></body></html>
